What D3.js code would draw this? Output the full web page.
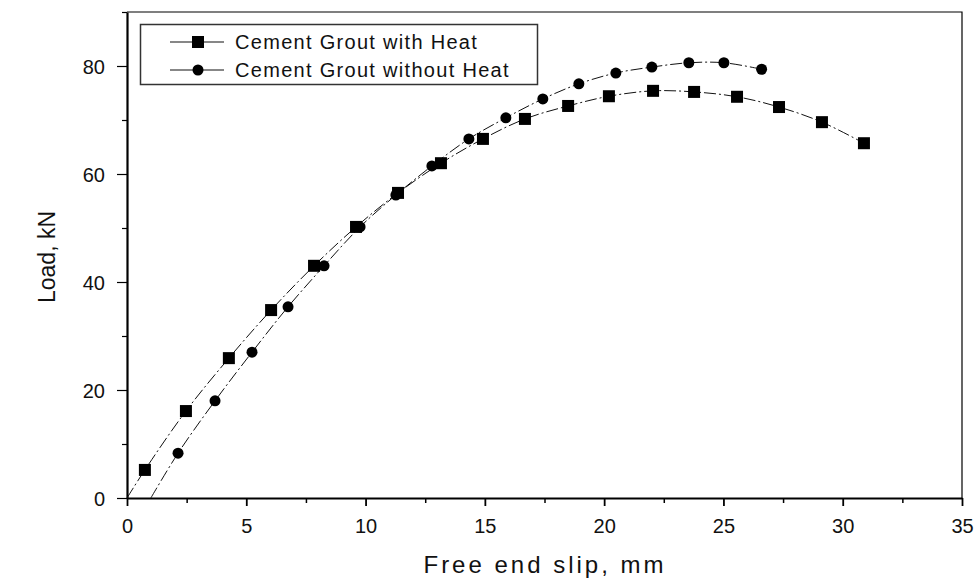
<!DOCTYPE html>
<html lang="en">
<head>
    <meta charset="UTF-8">
    <title>Load vs Free end slip</title>
    <script src="https://cdn.jsdelivr.net/npm/d3@7/dist/d3.min.js"></script>
    <style>
        body { margin: 0; background: #fff; }
        svg { display: block; font-family: Arial, "Liberation Sans", sans-serif; }
        .axis path, .axis line { stroke: #000; }
        .axis text { font-size: 20px; fill: #111; font-family: Arial, "Liberation Sans", sans-serif; }
    </style>
</head>
<body>
    <div id="chart"></div>
    <script>
        // data
        const seriesNames = ["Cement Grout with Heat", "Cement Grout without Heat"];

        const withHeatSlip = [0.75, 2.47, 4.27, 6.04, 7.84, 9.6, 11.36, 13.16, 14.92, 16.68, 18.49, 20.2, 22.05, 23.77, 25.57, 27.33, 29.13, 30.89];
        const withHeatLoad = [5.2, 16.1, 25.9, 34.8, 43.0, 50.2, 56.5, 62.0, 66.5, 70.2, 72.6, 74.4, 75.4, 75.2, 74.3, 72.4, 69.6, 65.7];
        const withHeatStart = [0, 0];

        const withoutHeatSlip = [2.14, 3.69, 5.24, 6.75, 8.26, 9.77, 11.27, 12.78, 14.33, 15.88, 17.43, 18.94, 20.49, 22.0, 23.55, 25.02, 26.6];
        const withoutHeatLoad = [8.3, 18.0, 27.0, 35.4, 43.0, 50.2, 56.1, 61.5, 66.5, 70.4, 73.9, 76.7, 78.7, 79.8, 80.6, 80.6, 79.4];
        const withoutHeatStart = [1.0, 0];

        const xTicks = [0, 5, 10, 15, 20, 25, 30, 35];
        const xMinorTicks = [2.5, 7.5, 12.5, 17.5, 22.5, 27.5, 32.5];
        const yTicks = [0, 20, 40, 60, 80];
        const yMinorTicks = [10, 30, 50, 70, 90];

        const W = 980, H = 582;
        const margin = { top: 12, right: 18, bottom: 84, left: 127 };
        const width = W - margin.left - margin.right,
            height = H - margin.top - margin.bottom;

        const svg = d3.select("#chart")
            .append("svg")
            .attr("width", W)
            .attr("height", H);

        const g = svg.append("g")
            .attr("transform", "translate(" + margin.left + "," + margin.top + ")");

        const x = d3.scaleLinear().domain([0, 35]).range([0, width]);
        const y = d3.scaleLinear().domain([0, 90]).range([height, 0]);

        // frame (top and right, thin)
        g.append("path")
            .attr("d", `M0,0H${width}V${height}`)
            .attr("fill", "none")
            .attr("stroke", "#000")
            .attr("stroke-width", 1.2);

        // minor ticks
        g.append("g")
            .attr("class", "axis")
            .attr("transform", "translate(0," + height + ")")
            .call(d3.axisBottom(x).tickValues(xMinorTicks).tickSize(5).tickFormat(""))
            .call(s => s.select(".domain").remove())
            .selectAll("line").attr("stroke-width", 1.5);

        g.append("g")
            .attr("class", "axis")
            .call(d3.axisLeft(y).tickValues(yMinorTicks).tickSize(5).tickFormat(""))
            .call(s => s.select(".domain").remove())
            .selectAll("line").attr("stroke-width", 1.2);

        // major axes
        const xAxis = g.append("g")
            .attr("class", "axis")
            .attr("transform", "translate(0," + height + ")")
            .call(d3.axisBottom(x).tickValues(xTicks).tickSize(8).tickSizeOuter(0).tickPadding(13));
        xAxis.select(".domain").attr("stroke-width", 2.2);
        xAxis.selectAll("line").attr("stroke-width", 1.8);

        const yAxis = g.append("g")
            .attr("class", "axis")
            .call(d3.axisLeft(y).tickValues(yTicks).tickSize(10).tickSizeOuter(0).tickPadding(12));
        yAxis.select(".domain").attr("stroke-width", 2.2);
        yAxis.selectAll("line").attr("stroke-width", 1.2);
        yAxis.selectAll("text").attr("dy", "0.36em");

        // axis titles
        svg.append("text")
            .attr("x", 545)
            .attr("y", 573)
            .attr("text-anchor", "middle")
            .attr("font-size", 24)
            .attr("letter-spacing", 3)
            .attr("fill", "#111")
            .text("Free end slip, mm");

        svg.append("text")
            .attr("transform", "translate(55,257) rotate(-90)")
            .attr("text-anchor", "middle")
            .attr("font-size", 23)
            .attr("fill", "#111")
            .text("Load, kN");

        // curves
        const line = d3.line()
            .x(d => x(d[0]))
            .y(d => y(d[1]))
            .curve(d3.curveCatmullRom.alpha(0.5));

        const withHeat = withHeatSlip.map((s, i) => [s, withHeatLoad[i]]);
        const withoutHeat = withoutHeatSlip.map((s, i) => [s, withoutHeatLoad[i]]);

        g.append("path")
            .datum([withHeatStart, ...withHeat])
            .attr("d", line)
            .attr("fill", "none")
            .attr("stroke", "#111")
            .attr("stroke-width", 1)
            .attr("stroke-dasharray", "12,3,2,3");

        g.append("path")
            .datum([withoutHeatStart, ...withoutHeat])
            .attr("d", line)
            .attr("fill", "none")
            .attr("stroke", "#111")
            .attr("stroke-width", 1)
            .attr("stroke-dasharray", "12,3,2,3");

        // markers
        const sq = 12;
        g.append("g")
            .selectAll("rect")
            .data(withHeat)
            .enter().append("rect")
            .attr("x", d => x(d[0]) - sq / 2)
            .attr("y", d => y(d[1]) - sq / 2)
            .attr("width", sq)
            .attr("height", sq)
            .attr("fill", "#000");

        g.append("g")
            .selectAll("circle")
            .data(withoutHeat)
            .enter().append("circle")
            .attr("cx", d => x(d[0]))
            .attr("cy", d => y(d[1]))
            .attr("r", 5.5)
            .attr("fill", "#000");

        // legend
        const legend = svg.append("g");
        legend.append("rect")
            .attr("x", 140.5)
            .attr("y", 24.5)
            .attr("width", 397)
            .attr("height", 60)
            .attr("fill", "#fff")
            .attr("stroke", "#333")
            .attr("stroke-width", 1.5);

        const rows = [42, 70];
        seriesNames.forEach((name, i) => {
            const ry = rows[i];
            legend.append("line")
                .attr("x1", 170).attr("x2", 224)
                .attr("y1", ry).attr("y2", ry)
                .attr("stroke", "#111")
                .attr("stroke-width", 1.2);
            if (i === 0) {
                legend.append("rect")
                    .attr("x", 198 - sq / 2).attr("y", ry - sq / 2)
                    .attr("width", sq).attr("height", sq)
                    .attr("fill", "#000");
            } else {
                legend.append("circle")
                    .attr("cx", 198).attr("cy", ry).attr("r", 5.5)
                    .attr("fill", "#000");
            }
            legend.append("text")
                .attr("x", 235)
                .attr("y", ry)
                .attr("dy", "0.36em")
                .attr("font-size", 20)
                .attr("letter-spacing", 1.3)
                .attr("fill", "#111")
                .text(name);
        });
    </script>
</body>
</html>
